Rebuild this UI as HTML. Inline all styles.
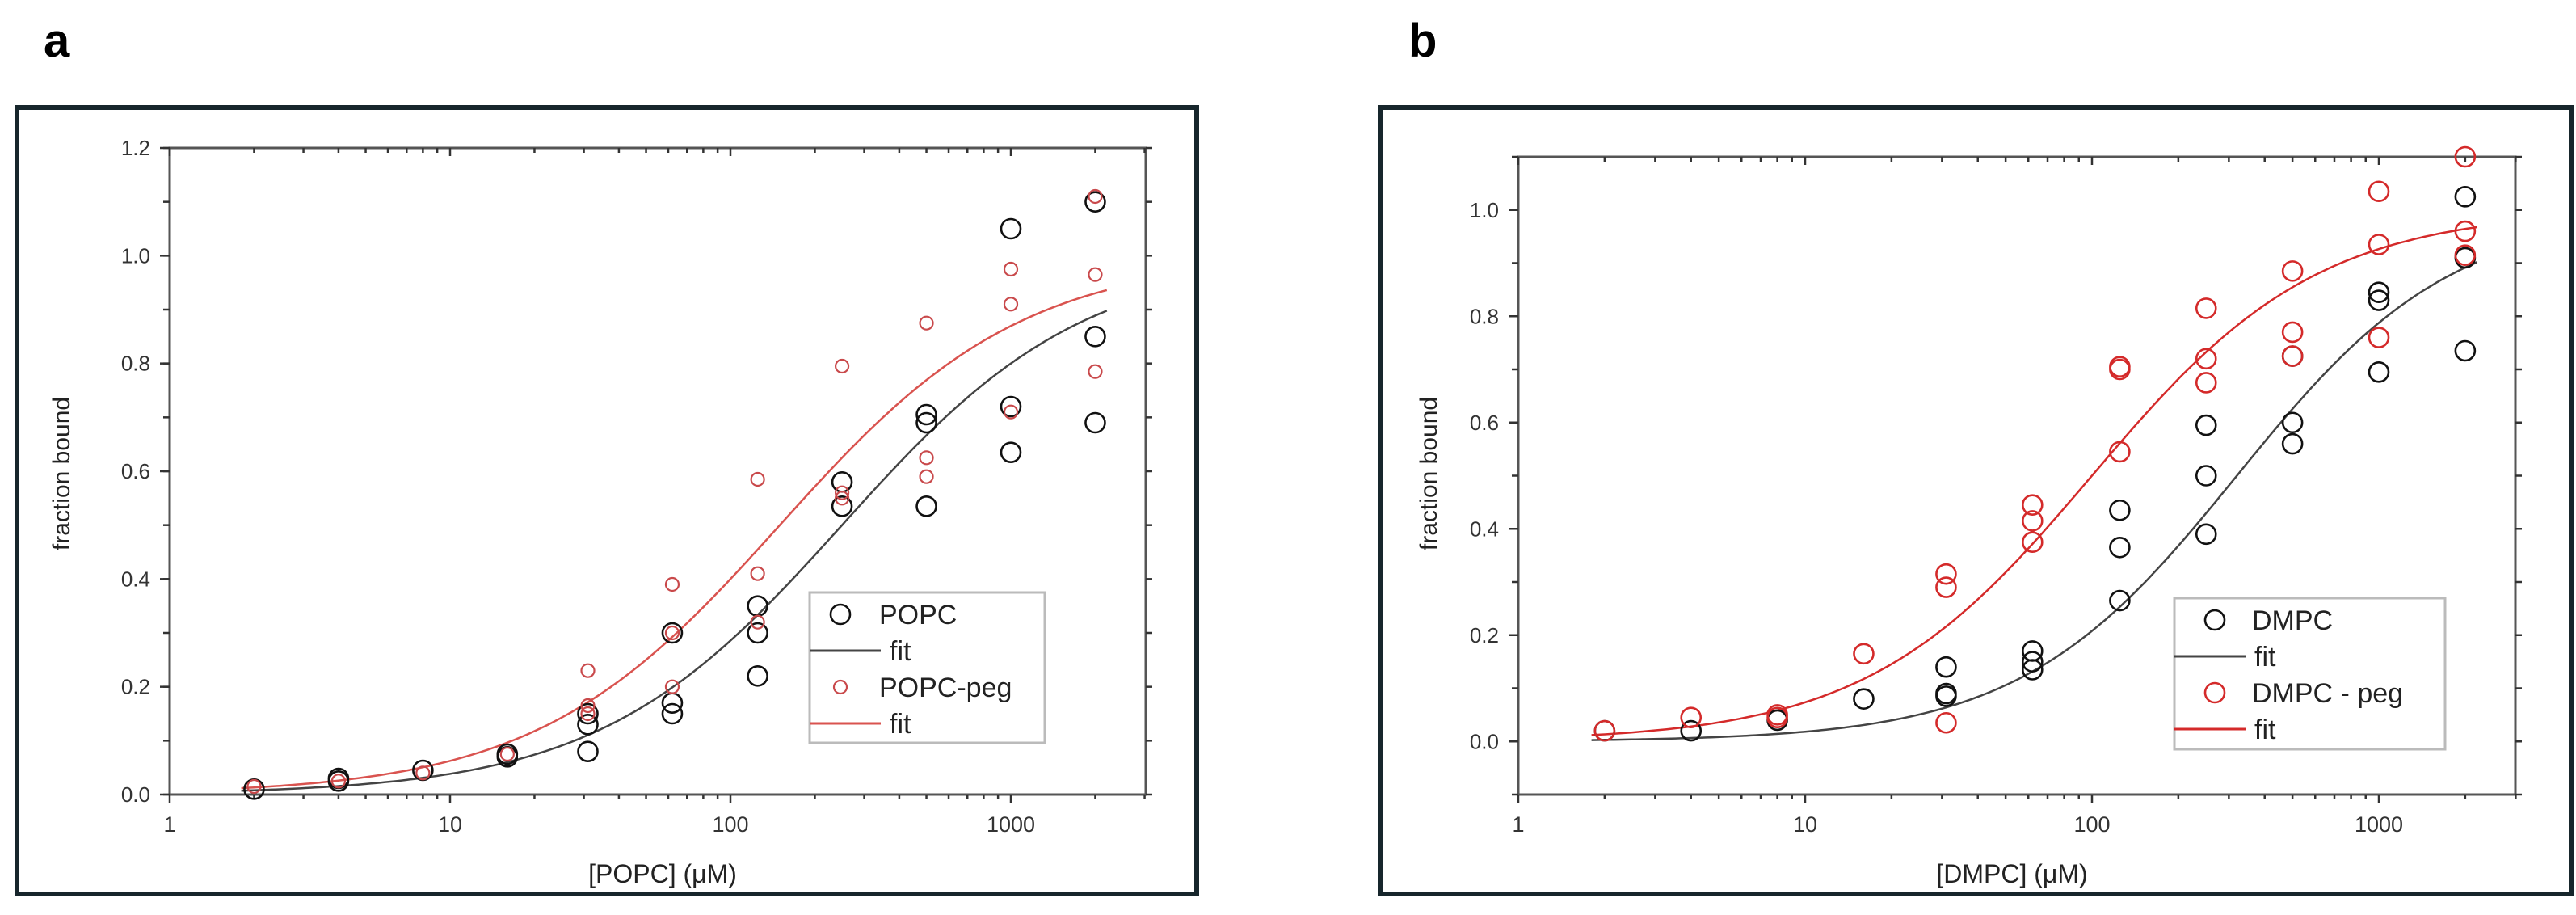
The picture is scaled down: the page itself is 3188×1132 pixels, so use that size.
<!DOCTYPE html>
<html><head><meta charset="utf-8"><style>
html,body{margin:0;padding:0;background:#fff;}
svg{display:block;font-family:"Liberation Sans",Arial,sans-serif;}
</style></head><body>
<svg id="fig" width="3188" height="1132" viewBox="0 0 3188 1132" xmlns="http://www.w3.org/2000/svg">
<rect x="0" y="0" width="3188" height="1132" fill="#fff"/>
<text x="54" y="70" font-size="58" font-weight="bold">a</text>
<text x="1743" y="70" font-size="58" font-weight="bold">b</text>
<rect x="21" y="133" width="1460" height="973" fill="none" stroke="#17262c" stroke-width="6"/>
<rect x="1708" y="133" width="1474" height="973" fill="none" stroke="#17262c" stroke-width="6"/>
<g id="pa"></g>
<g id="pb"></g>
</svg>
<script>
const xConc = [2,4,8,16,31,62,125,250,500,1000,2000];
const xTickLabels = ["1","10","100","1000"];
const xTickValues = [1,10,100,1000];
// Panel a
const popcX = [2,4,4,8,16,16,31,31,31,62,62,62,125,125,125,250,250,500,500,500,1000,1000,1000,2000,2000,2000];
const popcY = [0.01,0.03,0.025,0.045,0.075,0.07,0.13,0.15,0.08,0.30,0.17,0.15,0.35,0.30,0.22,0.58,0.535,0.705,0.69,0.535,1.05,0.72,0.635,1.10,0.85,0.69];
const popcPegX = [2,4,8,16,31,31,31,62,62,62,125,125,125,250,250,250,500,500,500,1000,1000,1000,2000,2000,2000];
const popcPegY = [0.015,0.025,0.04,0.075,0.23,0.165,0.15,0.39,0.30,0.20,0.585,0.41,0.32,0.795,0.56,0.55,0.875,0.625,0.59,0.975,0.91,0.71,1.11,0.965,0.785];
const popcFitK = [250], popcFitN = [1.0];
const popcPegFitK = [150], popcPegFitN = [1.0];
const aYTicks = [0,0.2,0.4,0.6,0.8,1.0,1.2];
const aYTickLabels = ["0.0","0.2","0.4","0.6","0.8","1.0","1.2"];
// Panel b
const dmpcX = [2,4,8,16,31,31,31,62,62,62,125,125,125,250,250,250,500,500,500,1000,1000,1000,2000,2000,2000];
const dmpcY = [0.02,0.02,0.04,0.08,0.14,0.09,0.085,0.17,0.15,0.135,0.435,0.365,0.265,0.595,0.50,0.39,0.725,0.60,0.56,0.845,0.83,0.695,1.025,0.91,0.735];
const dmpcPegX = [2,4,8,8,16,31,31,31,62,62,62,125,125,125,250,250,250,500,500,500,1000,1000,1000,2000,2000,2000];
const dmpcPegY = [0.02,0.045,0.05,0.045,0.165,0.315,0.29,0.035,0.445,0.415,0.375,0.705,0.70,0.545,0.815,0.72,0.675,0.885,0.77,0.725,1.035,0.935,0.76,1.10,0.96,0.915];
const dmpcFitK = [320], dmpcFitN = [1.15];
const dmpcPegFitK = [100], dmpcPegFitN = [1.1];
const bYTicks = [0,0.2,0.4,0.6,0.8,1.0];
const bYTickLabels = ["0.0","0.2","0.4","0.6","0.8","1.0"];

const NS = "http://www.w3.org/2000/svg";
function mk(parent, tag, attrs, text){
  const e = document.createElementNS(NS, tag);
  for (const k in attrs) e.setAttribute(k, attrs[k]);
  if (text !== undefined) e.textContent = text;
  parent.appendChild(e);
  return e;
}
function panel(g, cfg){
  const xs = v => cfg.left + (Math.log10(v) - 0) * cfg.dec;
  const ys = v => cfg.bottom - (v - cfg.ymin) / (cfg.ymax - cfg.ymin) * (cfg.bottom - cfg.top);
  const right = cfg.right;
  const box = mk(g, "rect", {x:cfg.left, y:cfg.top, width:right-cfg.left, height:cfg.bottom-cfg.top, fill:"none", stroke:"#555", "stroke-width":3});
  
  
  for (let d = 0; d < 4; d++) {
    for (let m = 1; m <= 9; m++) {
      const v = Math.pow(10, d) * m;
      const px = xs(v);
      if (px > right + 1) continue;
      const len = m === 1 ? 10 : 6;
      mk(g, "line", {x1:px, y1:cfg.bottom, x2:px, y2:cfg.bottom + len, stroke:"#333", "stroke-width":2.5});
      mk(g, "line", {x1:px, y1:cfg.top, x2:px, y2:cfg.top + len, stroke:"#333", "stroke-width":2.5});
    }
  }
  xTickValues.forEach((v, i) => {
    const t = mk(g, "text", {x:xs(v), y:cfg.bottom + 46, "font-size":27, "text-anchor":"middle", fill:"#333"}, xTickLabels[i]);
    
    
  });
  for (let v = cfg.ymin; v <= cfg.ymax + 1e-9; v += 0.1) {
    const py = ys(v);
    mk(g, "line", {x1:cfg.left - 8, y1:py, x2:cfg.left, y2:py, stroke:"#333", "stroke-width":2.5});
    mk(g, "line", {x1:right, y1:py, x2:right + 8, y2:py, stroke:"#333", "stroke-width":2.5});
  }
  cfg.yTicks.forEach((v, i) => {
    mk(g, "line", {x1:cfg.left - 12, y1:ys(v), x2:cfg.left, y2:ys(v), stroke:"#333", "stroke-width":2.5});
    const t = mk(g, "text", {x:cfg.left - 24, y:ys(v) + 9, "font-size":26, "text-anchor":"end", fill:"#333"}, cfg.yLabels[i]);
    
    
  });
  const xt = mk(g, "text", {x:cfg.xTitleX, y:1092, "font-size":32, "text-anchor":"middle", fill:"#222"}, cfg.xTitle);
  
  
  const yt = mk(g, "text", {x:0, y:0, "font-size":30, "text-anchor":"middle", fill:"#222", transform:`translate(${cfg.yTitleX},586) rotate(-90)`}, "fraction bound");
  
  
  cfg.series.forEach(s => {
    let d = "";
    for (let i = 0; i <= 200; i++) {
      const lx = Math.log10(1.8) + (Math.log10(2200) - Math.log10(1.8)) * i / 200;
      const x = Math.pow(10, lx);
      const f = Math.pow(x, s.n[0]) / (Math.pow(s.K[0], s.n[0]) + Math.pow(x, s.n[0]));
      d += (i ? "L" : "M") + xs(x).toFixed(1) + "," + ys(f).toFixed(1);
    }
    const p = mk(g, "path", {d:d, fill:"none", stroke:s.lineColor, "stroke-width":2.5});
    
    
  });
  cfg.series.forEach(s => {
    s.x.forEach((xv, i) => {
      const c = mk(g, "circle", {cx:xs(xv), cy:ys(s.y[i]), r:s.r, fill:"none", stroke:s.color, "stroke-width":s.sw});
      
      
    });
  });
  const L = cfg.legend;
  const lg = mk(g, "g", {});
  
  
  mk(lg, "rect", {x:L.x, y:L.y, width:L.w, height:L.h, fill:"#fff", stroke:"#bbb", "stroke-width":3});
  const rows = [L.y + 27, L.y + 72, L.y + 117, L.y + 162];
  const s0 = cfg.series[0], s1 = cfg.series[1];
  mk(lg, "circle", {cx:L.mx, cy:rows[0], r:s0.r, fill:"none", stroke:s0.color, "stroke-width":s0.sw});
  mk(lg, "text", {x:L.tx, y:rows[0] + 12, "font-size":34, fill:"#222"}, L.labels[0]);
  mk(lg, "line", {x1:L.x, y1:rows[1], x2:L.x + 88, y2:rows[1], stroke:s0.lineColor, "stroke-width":3});
  mk(lg, "text", {x:L.x + 99, y:rows[1] + 12, "font-size":34, fill:"#222"}, "fit");
  mk(lg, "circle", {cx:L.mx, cy:rows[2], r:s1.r, fill:"none", stroke:s1.color, "stroke-width":s1.sw});
  mk(lg, "text", {x:L.tx, y:rows[2] + 12, "font-size":34, fill:"#222"}, L.labels[1]);
  mk(lg, "line", {x1:L.x, y1:rows[3], x2:L.x + 88, y2:rows[3], stroke:s1.lineColor, "stroke-width":3});
  mk(lg, "text", {x:L.x + 99, y:rows[3] + 12, "font-size":34, fill:"#222"}, "fit");
}
panel(document.getElementById("pa"), {
  left:210, right:1418, top:183, bottom:983, dec:347, ymin:0, ymax:1.2,
  yTicks:aYTicks, yLabels:aYTickLabels, xTitle:"[POPC] (\u03BCM)", xTitleX:820, yTitleX:86,
  series:[
    {name:"popc", x:popcX, y:popcY, color:"#111", lineColor:"#444", r:12, sw:2.6, K:popcFitK, n:popcFitN},
    {name:"popc-peg", x:popcPegX, y:popcPegY, color:"#c9494b", lineColor:"#d9534f", r:8, sw:2.2, K:popcPegFitK, n:popcPegFitN}
  ],
  legend:{x:1002, y:733, w:291, h:186, mx:1040, tx:1088, labels:["POPC","POPC-peg"]}
});
panel(document.getElementById("pb"), {
  left:1879, right:3113, top:194, bottom:983, dec:355, ymin:-0.1, ymax:1.1,
  yTicks:bYTicks, yLabels:bYTickLabels, xTitle:"[DMPC] (\u03BCM)", xTitleX:2490, yTitleX:1778,
  series:[
    {name:"dmpc", x:dmpcX, y:dmpcY, color:"#111", lineColor:"#444", r:12, sw:2.6, K:dmpcFitK, n:dmpcFitN},
    {name:"dmpc-peg", x:dmpcPegX, y:dmpcPegY, color:"#d42a2a", lineColor:"#d42a2a", r:12, sw:2.6, K:dmpcPegFitK, n:dmpcPegFitN}
  ],
  legend:{x:2691, y:740, w:335, h:187, mx:2741, tx:2787, labels:["DMPC","DMPC - peg"]}
});
</script>
</body></html>
